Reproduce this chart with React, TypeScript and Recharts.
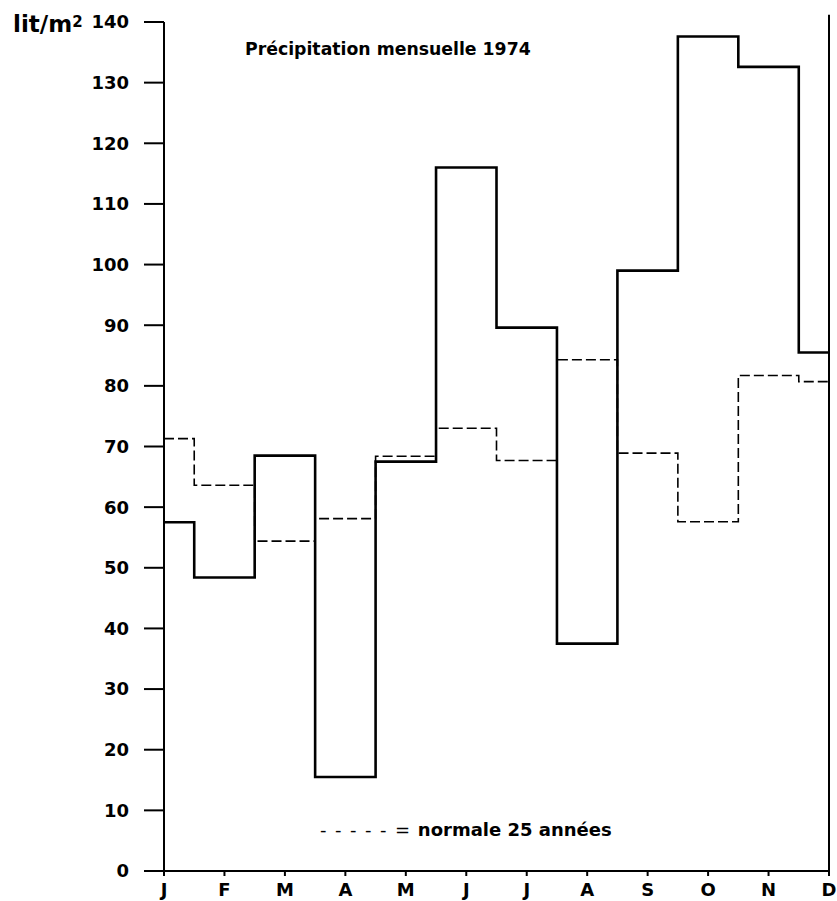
import { LineChart, Line, XAxis, YAxis, ReferenceLine } from 'recharts'

const months = ['J', 'F', 'M', 'A', 'M', 'J', 'J', 'A', 'S', 'O', 'N', 'D']
const precip1974 = [57.5, 48.4, 68.5, 15.5, 67.5, 116, 89.6, 37.5, 99, 137.6, 132.6, 85.5]
const normal25 = [71.3, 63.6, 54.4, 58.1, 68.4, 73, 67.7, 84.3, 68.9, 57.6, 81.7, 80.7]
const yTicks = [0, 10, 20, 30, 40, 50, 60, 70, 80, 90, 100, 110, 120, 130, 140]

const data = months.map((m, i) => ({
  key: i,
  month: m,
  precip: precip1974[i],
  normal: normal25[i],
}))

const font = '"DejaVu Sans", sans-serif'

export default function App() {
  return (
    <div style={{ position: 'absolute', left: 0, top: 0, width: 837, height: 901, background: '#fff' }}>
      <LineChart width={837} height={901} data={data} margin={{ top: 22, right: 8, left: 0, bottom: 0 }}>
        <XAxis
          dataKey="key"
          tickFormatter={(i: number) => months[i]}
          axisLine={{ stroke: '#000', strokeWidth: 2 }}
          tickLine={{ stroke: '#000', strokeWidth: 2 }}
          tickSize={5}
          tickMargin={7}
          height={30}
          interval={0}
          tick={{ fontSize: 18, fontFamily: font, fontWeight: 'bold', fill: '#000' }}
        />
        <YAxis
          domain={[0, 140]}
          ticks={yTicks}
          width={164}
          axisLine={{ stroke: '#000', strokeWidth: 2 }}
          tickLine={{ stroke: '#000', strokeWidth: 2 }}
          tickSize={20}
          tickMargin={15}
          tick={{ fontSize: 18, fontFamily: font, fontWeight: 'bold', fill: '#000' }}
        />
        <ReferenceLine
          segment={[{ x: 11, y: 0 }, { x: 11, y: 141.2 }]}
          stroke="#000"
          strokeWidth={2}
          ifOverflow="visible"
        />
        <Line
          type="step"
          dataKey="normal"
          stroke="#000"
          strokeWidth={1.6}
          strokeDasharray="10 4"
          dot={false}
          isAnimationActive={false}
        />
        <Line
          type="step"
          dataKey="precip"
          stroke="#000"
          strokeWidth={2.6}
          dot={false}
          isAnimationActive={false}
        />
      </LineChart>
      <div style={{ position: 'absolute', left: 13, top: 12.5, fontFamily: font, fontWeight: 'bold', fontSize: 23, lineHeight: 1, whiteSpace: 'nowrap' }}>
        lit/m<span style={{ fontSize: 15, verticalAlign: 'top', position: 'relative', top: 2 }}>2</span>
      </div>
      <div style={{ position: 'absolute', left: 245, top: 41, fontFamily: font, fontWeight: 'bold', fontSize: 17.3, lineHeight: 1, whiteSpace: 'nowrap' }}>
        Précipitation mensuelle 1974
      </div>
      <div style={{ position: 'absolute', left: 320, top: 821, fontFamily: font, fontSize: 18, lineHeight: 1, whiteSpace: 'nowrap' }}>
        <span style={{ fontWeight: 'normal', letterSpacing: 1.4 }}>- - - - - =</span>
        <span style={{ fontWeight: 'bold' }}> normale 25 années</span>
      </div>
    </div>
  )
}
